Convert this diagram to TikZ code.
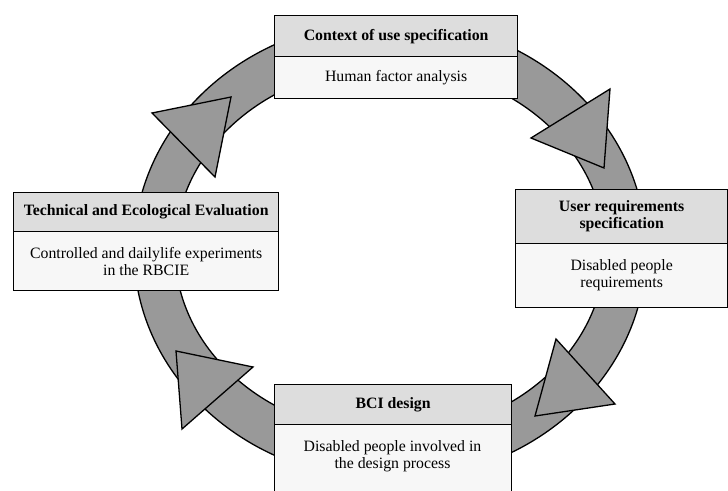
\documentclass[tikz,border=0pt]{standalone}
\usepackage{fontspec}
\setmainfont{Liberation Serif}
\definecolor{ringgray}{RGB}{153,153,153}
\definecolor{hdrgray}{RGB}{221,221,221}
\definecolor{bodygray}{RGB}{247,247,247}
\begin{document}
\begin{tikzpicture}[x=1pt,y=-1pt,
  hdr/.style={draw, line width=1.3pt, fill=hdrgray, font=\fontsize{15.8}{17}\selectfont\bfseries, align=center, inner sep=0pt, anchor=north west},
  bdy/.style={draw, line width=1.3pt, fill=bodygray, font=\fontsize{15.8}{17}\selectfont, align=center, inner sep=0pt, anchor=north west},
  btxt/.style={font=\fontsize{15.8}{17}\selectfont, align=center, inner sep=0pt},
  ringline/.style={draw=black, line width=1.3pt},
  arrowhd/.style={fill=ringgray, draw=black, line width=1.3pt, line join=miter}]
\useasboundingbox (0,0) rectangle (728,490);
% ring
\fill[ringgray, even odd rule] (390,250) ellipse [x radius=256pt, y radius=230pt]
  (390,250) ellipse [x radius=215pt, y radius=184pt];
\draw[ringline] (390,250) ellipse [x radius=256pt, y radius=230pt];
\draw[ringline] (390,250) ellipse [x radius=215pt, y radius=184pt];
% arrow heads (clockwise)
\draw[arrowhd] (610,89) -- (531,138) -- (604,168) -- cycle;
\draw[arrowhd] (556,339) -- (615,404) -- (535,416) -- cycle;
\draw[arrowhd] (176,351) -- (253,367) -- (182,429) -- cycle;
\draw[arrowhd] (152,113) -- (231,97) -- (215,177) -- cycle;
% top box
\node[hdr, minimum width=243pt, minimum height=41pt] (ctxh) at (274,15) {Context of use specification};
\node[bdy, minimum width=243pt, minimum height=42pt] (ctxb) at (274,56) {Human factor analysis};
% right box
\node[hdr, minimum width=212pt, minimum height=54pt] (urh) at (515,189) {User requirements\\specification};
\node[bdy, minimum width=212pt, minimum height=64pt] (urb) at (515,243) {Disabled people\\requirements};
% bottom box
\node[hdr, minimum width=237pt, minimum height=40pt] (bcih) at (274,384) {BCI design};
\node[bdy, minimum width=237pt, minimum height=80pt] (bcib) at (274,424) {};
\node[btxt, anchor=north] (bcit) at (392.5,440) {Disabled people involved in\\the design process};
% left box
\node[hdr, minimum width=265pt, minimum height=39pt] (evh) at (13,192) {Technical and Ecological Evaluation};
\node[bdy, minimum width=265pt, minimum height=59pt] (evb) at (13,231) {Controlled and dailylife experiments\\in the RBCIE};
\end{tikzpicture}
\end{document}
